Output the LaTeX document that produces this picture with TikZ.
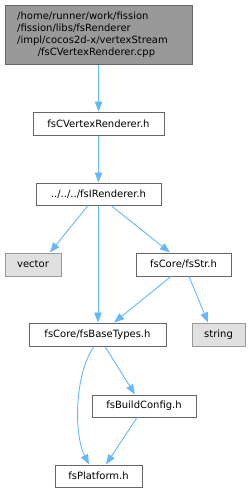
\documentclass[tikz,border=0pt]{standalone}
\usepackage{fontspec}
\setmainfont{DejaVu Sans}
\usetikzlibrary{arrows.meta}
\definecolor{edgeblue}{HTML}{63B8FF}
\definecolor{darkgrayb}{HTML}{666666}
\definecolor{topfill}{HTML}{999999}
\definecolor{extfill}{HTML}{E0E0E0}
\definecolor{extborder}{HTML}{999999}
\tikzset{
  filebox/.style={draw=darkgrayb, fill=white, line width=1pt, rectangle, inner sep=0pt,
    font=\fontsize{10}{12}\selectfont, text=black},
  extbox/.style={filebox, draw=extborder, fill=extfill},
  topbox/.style={filebox, fill=topfill},
  toptext/.style={inner sep=0pt, font=\fontsize{10}{12}\selectfont, text=black},
  edge/.style={draw=edgeblue, line width=0.9pt, -{Triangle[length=10pt,width=7.5pt]}},
}
\begin{document}
\begin{tikzpicture}[x=1pt,y=-1pt]
\useasboundingbox (0,0) rectangle (251,493);
% nodes
\node[topbox, minimum width=187pt, minimum height=59pt] (top) at (98.5,34.5) {};
\node[toptext, anchor=base west] (t1) at (17,19) {/home/runner/work/fission};
\node[toptext, anchor=base west] (t2) at (17,31) {/fission/libs/fsRenderer};
\node[toptext, anchor=base west] (t3) at (17,43) {/impl/cocos2d-x/vertexStream};
\node[toptext, anchor=base] (t4) at (96.5,55) {/fsCVertexRenderer.cpp};
\node[filebox, minimum width=131pt, minimum height=23pt] (cvr) at (98.5,123.5) {fsCVertexRenderer.h};
\node[filebox, minimum width=125pt, minimum height=22pt] (irend) at (98.5,194) {../../../fsIRenderer.h};
\node[extbox, minimum width=56pt, minimum height=23pt] (vector) at (33,264.5) {vector};
\node[filebox, minimum width=95pt, minimum height=23pt] (fsstr) at (183.5,264.5) {fsCore/fsStr.h};
\node[filebox, minimum width=137pt, minimum height=23pt] (base) at (97.5,334.5) {fsCore/fsBaseTypes.h};
\node[extbox, minimum width=53pt, minimum height=23pt] (string) at (218.5,334.5) {string};
\node[filebox, minimum width=104pt, minimum height=22pt] (build) at (144,406) {fsBuildConfig.h};
\node[filebox, minimum width=87pt, minimum height=22pt] (plat) at (98.5,476) {fsPlatform.h};
% edges
\draw[edge] (top.south) -- (cvr.north);
\draw[edge] (cvr.south) -- (irend.north);
\draw[edge] ([xshift=-10.5pt]irend.south) -- ([xshift=17pt]vector.north);
\draw[edge] ([xshift=-0.5pt]irend.south) -- ([xshift=0.5pt]base.north);
\draw[edge] ([xshift=12.5pt]irend.south) -- ([xshift=-13.5pt]fsstr.north);
\draw[edge] ([xshift=-12.5pt]fsstr.south) -- ([xshift=16.5pt]base.north);
\draw[edge] ([xshift=5.5pt]fsstr.south) -- ([xshift=-10.5pt]string.north);
\draw[edge] ([xshift=-3.5pt]base.south) .. controls (74,375) and (74,435) .. ([xshift=-9.5pt]plat.north);
\draw[edge] ([xshift=7.5pt]base.south) -- ([xshift=-9pt]build.north);
\draw[edge] ([xshift=-7pt]build.south) -- ([xshift=7.5pt]plat.north);
\end{tikzpicture}
\end{document}
